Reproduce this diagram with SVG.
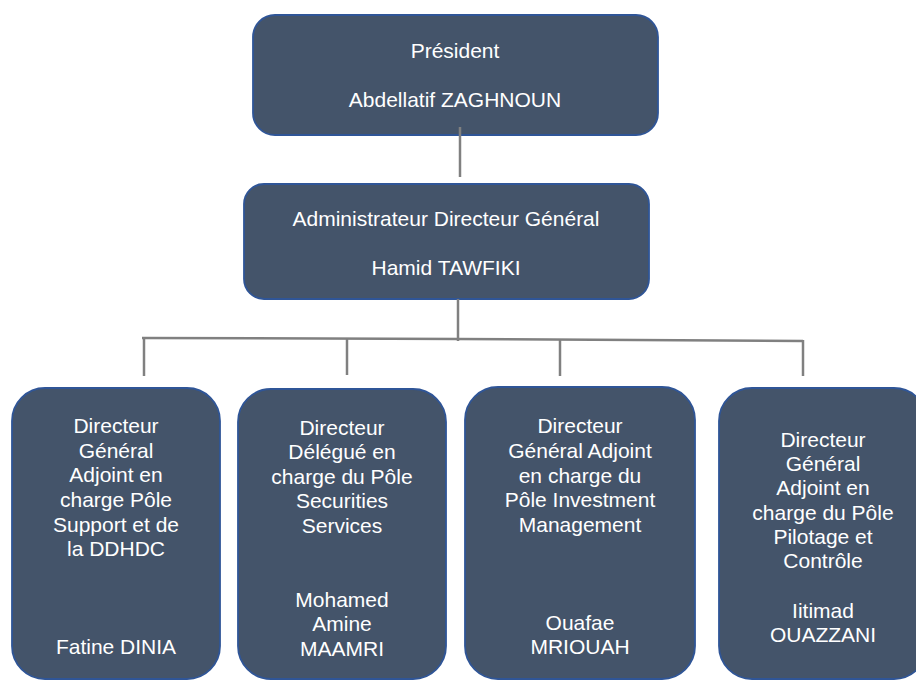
<svg xmlns="http://www.w3.org/2000/svg" width="916" height="680" viewBox="0 0 916 680">
  <style>
    .box { fill: #44546a; stroke: #2f5597; stroke-width: 1.8; }
    .lbl { font-family: "Liberation Sans", Arial, sans-serif; font-size: 21px; fill: #ffffff; text-anchor: middle; }
    .link { stroke: #808080; stroke-width: 2.5; fill: none; }
  </style>
  <rect width="916" height="680" fill="#ffffff"/>

  <!-- org chart boxes -->
  <g id="president">
    <rect class="box" x="253" y="15" width="405" height="120" rx="22" ry="22"/>
    <text class="lbl" x="455" y="58">Président</text>
    <text class="lbl" x="455" y="107">Abdellatif ZAGHNOUN</text>
  </g>

  <g id="adg">
    <rect class="box" x="244" y="184" width="405" height="115" rx="20" ry="20"/>
    <text class="lbl" x="446" y="226">Administrateur Directeur Général</text>
    <text class="lbl" x="446" y="275">Hamid TAWFIKI</text>
  </g>

  <g id="dga-support">
    <rect class="box" x="12" y="388" width="208" height="291" rx="33" ry="33"/>
    <text class="lbl" x="116" y="433">Directeur</text>
    <text class="lbl" x="116" y="458">Général</text>
    <text class="lbl" x="116" y="482">Adjoint en</text>
    <text class="lbl" x="116" y="507">charge Pôle</text>
    <text class="lbl" x="116" y="532">Support et de</text>
    <text class="lbl" x="116" y="556">la DDHDC</text>
    <text class="lbl" x="116" y="654">Fatine DINIA</text>
  </g>

  <g id="dd-securities">
    <rect class="box" x="238" y="389" width="208" height="290" rx="33" ry="33"/>
    <text class="lbl" x="342" y="435">Directeur</text>
    <text class="lbl" x="342" y="459">Délégué en</text>
    <text class="lbl" x="342" y="484">charge du Pôle</text>
    <text class="lbl" x="342" y="508">Securities</text>
    <text class="lbl" x="342" y="533">Services</text>
    <text class="lbl" x="342" y="607">Mohamed</text>
    <text class="lbl" x="342" y="631">Amine</text>
    <text class="lbl" x="342" y="656">MAAMRI</text>
  </g>

  <g id="dga-investment">
    <rect class="box" x="465" y="387" width="230" height="292" rx="33" ry="33"/>
    <text class="lbl" x="580" y="433">Directeur</text>
    <text class="lbl" x="580" y="458">Général Adjoint</text>
    <text class="lbl" x="580" y="483">en charge du</text>
    <text class="lbl" x="580" y="507">Pôle Investment</text>
    <text class="lbl" x="580" y="532">Management</text>
    <text class="lbl" x="580" y="630">Ouafae</text>
    <text class="lbl" x="580" y="654">MRIOUAH</text>
  </g>

  <g id="dga-pilotage">
    <rect class="box" x="719" y="388" width="208" height="291" rx="33" ry="33"/>
    <text class="lbl" x="823" y="447">Directeur</text>
    <text class="lbl" x="823" y="471">Général</text>
    <text class="lbl" x="823" y="495">Adjoint en</text>
    <text class="lbl" x="823" y="520">charge du Pôle</text>
    <text class="lbl" x="823" y="544">Pilotage et</text>
    <text class="lbl" x="823" y="568">Contrôle</text>
    <text class="lbl" x="823" y="618">Iitimad</text>
    <text class="lbl" x="823" y="642">OUAZZANI</text>
  </g>

  <!-- connectors -->
  <g id="connectors">
    <line class="link" x1="460" y1="127" x2="460" y2="177"/>
    <line class="link" x1="458" y1="299" x2="458" y2="341"/>
    <polyline class="link" points="142,338 458,339 803,341"/>
    <line class="link" x1="144" y1="338" x2="144" y2="376"/>
    <line class="link" x1="347" y1="338" x2="347" y2="375"/>
    <line class="link" x1="560" y1="340" x2="560" y2="376"/>
    <line class="link" x1="803" y1="340" x2="803" y2="376"/>
  </g>
</svg>
